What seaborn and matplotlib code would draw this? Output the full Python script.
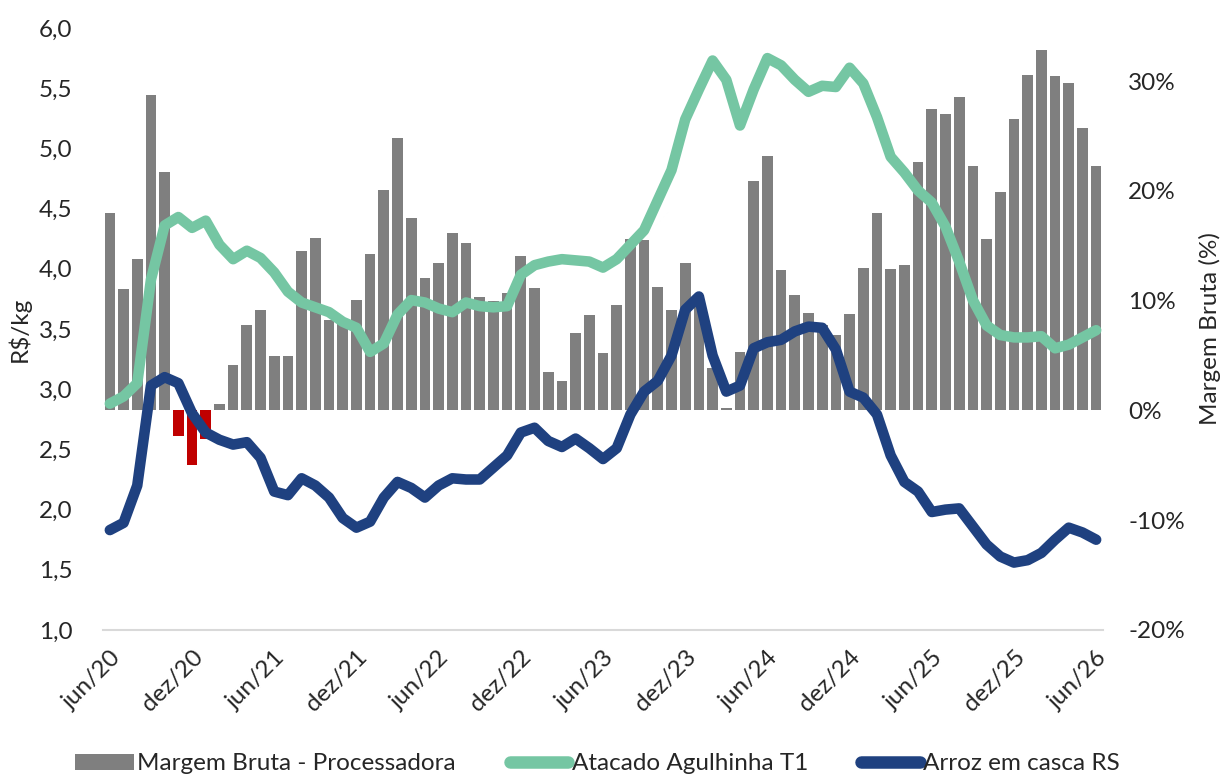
import matplotlib
matplotlib.use("Agg")
import matplotlib.pyplot as plt
import seaborn as sns
import pandas as pd
from matplotlib.patches import Patch
from matplotlib.lines import Line2D
from matplotlib.ticker import FixedLocator, FuncFormatter
from matplotlib.transforms import ScaledTranslation

# ---------------- data ----------------
meses = ["jan", "fev", "mar", "abr", "mai", "jun", "jul", "ago", "set", "out", "nov", "dez"]
months = [f"{meses[(5 + i) % 12]}/{20 + (5 + i) // 12}" for i in range(73)]  # jun/20 .. jun/26

margem_bruta = [18.0, 11.1, 13.8, 28.7, 21.75, -2.3, -5.0, -2.6, 0.6, 4.1, 7.8, 9.2,
                5.0, 5.0, 14.5, 15.7, 8.2, 7.9, 10.1, 14.3, 20.1, 24.85, 17.55, 12.1,
                13.45, 16.2, 15.3, 10.35, 10.0, 10.7, 14.1, 11.2, 3.55, 2.7, 7.05, 8.7,
                5.25, 9.6, 15.6, 15.55, 11.25, 9.15, 13.4, 10.5, 3.9, 0.2, 5.3, 20.9,
                23.15, 12.8, 10.5, 8.9, 7.8, 6.9, 8.8, 13.0, 17.95, 12.85, 13.25, 22.6,
                27.5, 27.0, 28.6, 22.3, 15.6, 19.9, 26.6, 30.6, 32.8, 30.5, 29.8, 25.7,
                22.3]

atacado_agulhinha = [2.88, 2.94, 3.05, 3.91, 4.36, 4.43, 4.34, 4.40, 4.20, 4.08, 4.15, 4.09,
                     3.97, 3.81, 3.72, 3.68, 3.64, 3.56, 3.51, 3.31, 3.38, 3.62, 3.74, 3.72,
                     3.67, 3.64, 3.72, 3.69, 3.68, 3.69, 3.95, 4.03, 4.06, 4.08, 4.07, 4.06,
                     4.01, 4.08, 4.20, 4.32, 4.57, 4.82, 5.24, 5.49, 5.73, 5.57, 5.19, 5.49,
                     5.75, 5.69, 5.57, 5.47, 5.52, 5.51, 5.67, 5.54, 5.26, 4.93, 4.80, 4.65,
                     4.55, 4.35, 4.06, 3.74, 3.53, 3.45, 3.43, 3.43, 3.44, 3.34, 3.37, 3.43,
                     3.49]

arroz_casca = [1.83, 1.89, 2.20, 3.03, 3.10, 3.05, 2.80, 2.64, 2.58, 2.54, 2.56, 2.43,
               2.15, 2.12, 2.26, 2.20, 2.10, 1.93, 1.85, 1.90, 2.10, 2.23, 2.18, 2.10,
               2.20, 2.26, 2.25, 2.25, 2.35, 2.45, 2.64, 2.68, 2.57, 2.52, 2.59, 2.51,
               2.42, 2.51, 2.79, 2.98, 3.07, 3.28, 3.66, 3.77, 3.28, 2.98, 3.03, 3.34,
               3.39, 3.41, 3.48, 3.52, 3.51, 3.33, 2.98, 2.93, 2.79, 2.45, 2.23, 2.15,
               1.98, 2.00, 2.01, 1.86, 1.71, 1.61, 1.56, 1.58, 1.64, 1.75, 1.85, 1.81,
               1.75]

left_ticks = [1.0, 1.5, 2.0, 2.5, 3.0, 3.5, 4.0, 4.5, 5.0, 5.5, 6.0]
right_ticks = [-20, -10, 0, 10, 20, 30]
xtick_every = 6

legend_labels = ["Margem Bruta - Processadora", "Atacado Agulhinha T1", "Arroz em casca RS"]

# ---------------- style ----------------
GRAY = "#7F7F7F"
RED = "#C00000"
GREEN = "#75C6A3"
BLUE = "#1F4180"
TXT = "#262626"

sns.set_theme(style="white")
plt.rcParams["font.family"] = ["Lato", "DejaVu Sans"]
plt.rcParams["font.weight"] = "normal"
FS = 17.5

df = pd.DataFrame({
    "pos": list(range(len(months))),
    "mes": months,
    "margem": margem_bruta,
    "atacado": atacado_agulhinha,
    "arroz": arroz_casca,
})
df["sinal"] = ["neg" if v < 0 else "pos" for v in df["margem"]]

fig = plt.figure(figsize=(12.2, 7.78), dpi=100)
axl = fig.add_axes([103 / 1220, 1 - 630 / 778, 1000 / 1220, 602 / 778])
axr = axl.twinx()

# bars on the right (%) axis
sns.barplot(data=df, x="pos", y="margem", hue="sinal",
            palette={"pos": GRAY, "neg": RED}, dodge=False, width=0.78,
            native_scale=True, legend=False, ax=axr, linewidth=0, saturation=1)

# lines on the left (R$/kg) axis, drawn above bars
axl.set_zorder(axr.get_zorder() + 1)
axl.patch.set_visible(False)
sns.lineplot(data=df, x="pos", y="atacado", color=GREEN, linewidth=7.6, ax=axl,
             solid_capstyle="round", solid_joinstyle="round")
sns.lineplot(data=df, x="pos", y="arroz", color=BLUE, linewidth=7.6, ax=axl,
             solid_capstyle="round", solid_joinstyle="round")

# axes limits
axl.set_xlim(-0.5, len(months) - 0.5)
axr.set_xlim(-0.5, len(months) - 0.5)
axl.set_ylim(1.0, 6.0)
axr.set_ylim(-20, 34.85)

# ticks
axl.yaxis.set_major_locator(FixedLocator(left_ticks))
axl.yaxis.set_major_formatter(FuncFormatter(lambda v, p: f"{v:.1f}".replace(".", ",")))
axr.yaxis.set_major_locator(FixedLocator(right_ticks))
axr.yaxis.set_major_formatter(FuncFormatter(lambda v, p: f"{v:.0f}%"))

xt = list(range(0, len(months), xtick_every))
axl.set_xticks(xt)
axl.set_xticklabels([months[i] for i in xt], rotation=45, ha="right",
                    rotation_mode="anchor", fontsize=FS, color=TXT)
off = ScaledTranslation(9 / 100, 0, fig.dpi_scale_trans)
for lab in axl.get_xticklabels():
    lab.set_transform(lab.get_transform() + off)
axl.tick_params(axis="x", length=0, pad=12, labelcolor=TXT)
axl.tick_params(axis="y", length=0, pad=22, labelsize=FS, labelcolor=TXT)
axr.tick_params(axis="y", length=0, pad=18, labelsize=FS, labelcolor=TXT)
axr.set_xlabel("")
axl.set_xlabel("")

axl.set_ylabel("R$/kg", fontsize=FS, color=TXT, labelpad=6)
axr.set_ylabel("Margem Bruta (%)", fontsize=FS, color=TXT, labelpad=10)

for ax in (axl, axr):
    for s in ax.spines.values():
        s.set_visible(False)
    ax.grid(False)
axl.spines["bottom"].set_visible(True)
axl.spines["bottom"].set_color("#D9D9D9")
axl.spines["bottom"].set_linewidth(1.5)

# legend
handles = [
    Patch(facecolor=GRAY, edgecolor="none"),
    Line2D([0], [0], color=GREEN, linewidth=9, solid_capstyle="round"),
    Line2D([0], [0], color=BLUE, linewidth=9, solid_capstyle="round"),
]
fig.legend(handles, legend_labels, loc="center", bbox_to_anchor=(0.49, 0.018),
           ncol=3, frameon=False, fontsize=FS, handlelength=2.4, handleheight=0.6,
           handletextpad=0.15, columnspacing=2.2, labelcolor=TXT)

fig.savefig("out.png", dpi=100)
